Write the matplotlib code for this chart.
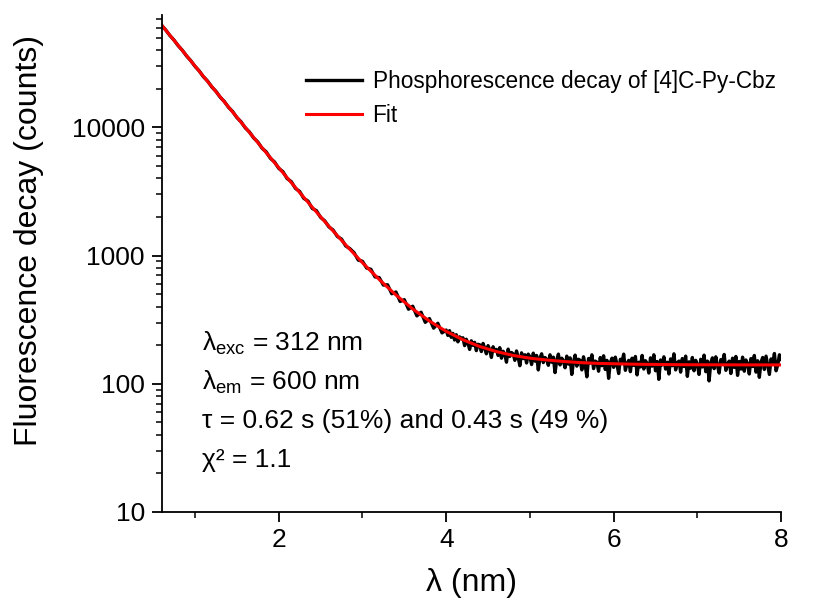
import numpy as np
import matplotlib
matplotlib.use("Agg")
import matplotlib.pyplot as plt
from matplotlib.ticker import FixedLocator, NullFormatter, LogLocator, FuncFormatter

plt.rcParams['font.family'] = ['Liberation Sans', 'DejaVu Sans']
plt.rcParams['mathtext.fontset'] = 'custom'
plt.rcParams['mathtext.rm'] = 'Liberation Sans'
plt.rcParams['mathtext.it'] = 'Liberation Sans:italic'

# measured decay, 0.60 - 3.95 s in 0.05 s steps
early_counts = [62750, 57610, 52120, 47930, 43310, 39880, 36010, 33150, 29940, 27590,
                24870, 22990, 20710, 19120, 17230, 15920, 14350, 13280, 11930, 11050,
                9920, 9210, 8280, 7690, 6890, 6440, 5740, 5370, 4790, 4510,
                3990, 3770, 3340, 3160, 2790, 2660, 2330, 2240,
                1985, 1862, 1671, 1578, 1409, 1342, 1188, 1131, 1052, 921,
                902, 798, 781, 681, 672, 588, 591, 503, 519, 438,
                452, 381, 402, 338, 361, 301, 322, 271, 296, 249]

# measured decay, 4.00 - 8.00 s in 0.02 s steps
late_counts = [262, 238, 259, 230, 247, 219, 241, 212, 232, 224,
               228, 198, 222, 207, 185, 216, 199, 210, 181, 203,
               201, 178, 206, 189, 171, 198, 184, 160, 194, 180,
               185, 166, 191, 158, 179, 170, 147, 186, 163, 175,
               171, 152, 180, 160, 138, 174, 157, 168, 145, 170,
               162, 141, 173, 150, 166, 128, 159, 171, 146, 160,
               155, 139, 168, 147, 161, 122, 152, 170, 140, 158,
               150, 133, 164, 142, 159, 118, 148, 167, 137, 155,
               152, 128, 162, 140, 113, 157, 145, 168, 131, 150,
               147, 125, 160, 138, 165, 129, 152, 110, 146, 158,
               134, 161, 141, 120, 155, 148, 170, 127, 143, 152,
               124, 158, 139, 163, 117, 147, 135, 166, 130, 151,
               144, 121, 159, 137, 168, 126, 149, 108, 153, 140,
               162, 130, 147, 119, 156, 138, 171, 128, 145, 150,
               123, 157, 136, 164, 114, 148, 132, 160, 126, 152,
               141, 118, 155, 135, 167, 124, 150, 105, 146, 159,
               131, 162, 138, 121, 154, 145, 169, 127, 141, 150,
               120, 158, 134, 163, 116, 149, 130, 161, 125, 153,
               143, 119, 157, 136, 166, 123, 151, 112, 147, 160,
               129, 164, 139, 118, 156, 144, 172, 126, 140, 168,
               155]

# fit curve, 0.6 - 8.0 s in 0.2 s steps
fit_counts = [63000, 43545, 30111, 20835, 14430, 10007, 6953, 4845, 3389, 2383,
              1689, 1210, 879, 650, 492, 383, 308, 256, 220, 195,
              178, 166, 158, 153, 149, 146, 144, 143, 142, 141.4,
              141, 140.6, 140.4, 140.3, 140.2, 140.1, 140.1, 140]

x_major = [2, 4, 6, 8]
x_minor = [1, 3, 5, 7]
y_major = [10, 100, 1000, 10000]

t_data = np.concatenate([np.linspace(0.6, 3.95, len(early_counts)),
                         np.linspace(4.0, 8.0, len(late_counts))])
counts = np.array(early_counts + late_counts)
t_fit = np.linspace(0.6, 8.0, len(fit_counts))

fig = plt.figure(figsize=(8.39, 6.10), dpi=100)
ax = fig.add_axes([0.1925, 0.161, 0.7385, 0.814])

ax.plot(t_data, counts, color='black', lw=2.4, label='Phosphorescence decay of [4]C-Py-Cbz')
ax.plot(t_fit, fit_counts, color='red', lw=2.2, label='Fit')

ax.set_yscale('log')
ax.set_xlim(0.6, 8.0)
ax.set_ylim(10, 75000)

ax.xaxis.set_major_locator(FixedLocator(x_major))
ax.xaxis.set_minor_locator(FixedLocator(x_minor))
ax.yaxis.set_major_locator(FixedLocator(y_major))
ax.yaxis.set_minor_locator(LogLocator(base=10, subs=np.arange(2, 10), numticks=20))
ax.yaxis.set_major_formatter(FuncFormatter(lambda v, p: '%d' % v))
ax.yaxis.set_minor_formatter(NullFormatter())

for side in ['top', 'right']:
    ax.spines[side].set_visible(False)
for side in ['left', 'bottom']:
    ax.spines[side].set_linewidth(1.3)

ax.tick_params(which='major', direction='out', length=7, width=1.3, labelsize=19, pad=5)
ax.tick_params(which='minor', direction='out', length=4, width=1.1)

ax.set_xlabel('λ (nm)', fontsize=23, labelpad=11)
ax.set_ylabel('Fluorescence decay (counts)', fontsize=23)
ax.yaxis.label.set_va('center')
ax.yaxis.set_label_coords(-0.214, 0.547)

ax.legend(loc='upper left', bbox_to_anchor=(0.2, 0.93), frameon=False,
          fontsize=16.3, handlelength=2.5, handletextpad=0.45, labelspacing=0.45)

notes = [r'λ$_{\mathrm{exc}}$ = 312 nm',
         r'λ$_{\mathrm{em}}$ = 600 nm',
         'τ = 0.62 s (51%) and 0.43 s (49 %)',
         'χ² = 1.1']
for i, s in enumerate(notes):
    ax.text(0.065, 0.34 - i * 0.0785, s, transform=ax.transAxes, fontsize=19, va='center')

fig.savefig('out.png', dpi=100)
